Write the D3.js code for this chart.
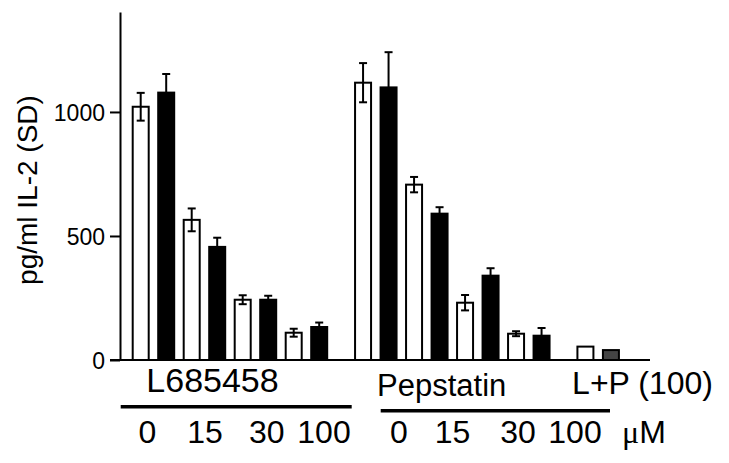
<!DOCTYPE html>
<html>
<head>
<meta charset="utf-8">
<script src="https://cdn.jsdelivr.net/npm/d3@7"></script>
<style>
  body { margin: 0; background: #fff; }
  text { font-family: "Liberation Sans", Arial, sans-serif; fill: #000; }
</style>
</head>
<body>
<svg id="chart" width="729" height="463"></svg>
<script>
// IL-2 values (pg/ml) and SD
const doses = ['0', '15', '30', '100'];
const l685458 = [1021, 1078, 565, 456, 243, 243, 110, 133];
const l685458Sd = [56, 75, 46, 37, 18, 16, 16, 18];
const pepstatin = [1118, 1099, 707, 590, 231, 340, 106, 98];
const pepstatinSd = [79, 142, 31, 26, 31, 30, 10, 31];
const combo = [54, 40];
const yTicks = [0, 500, 1000];

const fills = ['#fff', '#000'];

// flatten into bar list: group index, position in group
const bars = [];
l685458.forEach((v, i) => bars.push({ g: 0, i, v, sd: l685458Sd[i], fill: fills[i % 2] }));
pepstatin.forEach((v, i) => bars.push({ g: 1, i, v, sd: pepstatinSd[i], fill: fills[i % 2] }));
combo.forEach((v, i) => bars.push({ g: 2, i, v, sd: null, fill: i === 0 ? '#fff' : '#444' }));

const svg = d3.select('#chart');
const groupGap = 0.72;
const slot = d => d.g * 8 + d.i + d.g * groupGap;

const x = d3.scaleLinear().domain([0, 1]).range([140.7, 166.2]);
const y = d3.scaleLinear().domain([0, 1403]).range([360, 12]);
const barW = 16;

// bars
svg.append('g').selectAll('rect')
    .data(bars)
    .enter()
    .append('rect')
    .attr('x', d => x(slot(d)) - barW / 2)
    .attr('y', d => y(d.v))
    .attr('width', barW)
    .attr('height', d => y(0) - y(d.v))
    .attr('fill', d => d.fill)
    .attr('stroke', '#000')
    .attr('stroke-width', 2);

// error bars
const err = svg.append('g')
    .attr('stroke', '#000')
    .attr('stroke-width', 2)
    .selectAll('g')
    .data(bars.filter(d => d.sd !== null))
    .enter()
    .append('g');
err.append('line')
    .attr('x1', d => x(slot(d))).attr('x2', d => x(slot(d)))
    .attr('y1', d => y(d.v - d.sd)).attr('y2', d => y(d.v + d.sd));
err.append('line')
    .attr('x1', d => x(slot(d)) - 4).attr('x2', d => x(slot(d)) + 4)
    .attr('y1', d => y(d.v + d.sd)).attr('y2', d => y(d.v + d.sd));
err.append('line')
    .attr('x1', d => x(slot(d)) - 4).attr('x2', d => x(slot(d)) + 4)
    .attr('y1', d => y(d.v - d.sd)).attr('y2', d => y(d.v - d.sd));

// y axis
const yAxis = svg.append('g')
    .attr('transform', 'translate(120,0)')
    .call(d3.axisLeft(y).tickValues(yTicks).tickFormat(d3.format('d'))
        .tickSize(10).tickSizeOuter(0).tickPadding(5))
    .attr('font-size', 23)
    .attr('font-family', '"Liberation Sans", Arial, sans-serif');
yAxis.select('.domain').attr('stroke-width', 2);
yAxis.selectAll('.tick line').attr('stroke-width', 2);
yAxis.selectAll('.tick text').attr('dy', '0.36em');

// baseline
svg.append('line')
    .attr('x1', 110).attr('x2', 650)
    .attr('y1', y(0)).attr('y2', y(0))
    .attr('stroke', '#000').attr('stroke-width', 2);

// y label
svg.append('text')
    .attr('transform', 'translate(36.5,190) rotate(-90)')
    .attr('text-anchor', 'middle')
    .style('font-size', '28px')
    .text('pg/ml IL-2 (SD)');

// group labels
svg.append('text')
    .attr('x', 212.5).attr('y', 392.3)
    .attr('text-anchor', 'middle')
    .style('font-size', '34px')
    .text('L685458');
svg.append('text')
    .attr('x', 441.7).attr('y', 396)
    .attr('text-anchor', 'middle')
    .style('font-size', '31px')
    .text('Pepstatin');
svg.append('text')
    .attr('x', 642.5).attr('y', 394.3)
    .attr('text-anchor', 'middle')
    .style('font-size', '32px')
    .text('L+P (100)');

// underlines
svg.append('line')
    .attr('x1', 120.7).attr('x2', 351.7).attr('y1', 406.7).attr('y2', 406.7)
    .attr('stroke', '#000').attr('stroke-width', 3.5);
svg.append('line')
    .attr('x1', 380.7).attr('x2', 610).attr('y1', 410.7).attr('y2', 410.7)
    .attr('stroke', '#000').attr('stroke-width', 3.5);

// dose labels
const doseX = [[147.5, 205, 266.7, 324], [399, 452.5, 518, 575]];
doseX.forEach(row => {
    svg.append('g').selectAll('text')
        .data(doses)
        .enter()
        .append('text')
        .attr('x', (d, i) => row[i])
        .attr('y', 443)
        .attr('text-anchor', 'middle')
        .style('font-size', '32px')
        .text(d => d);
});
const unit = svg.append('text')
    .attr('x', 644).attr('y', 443)
    .attr('text-anchor', 'middle')
    .style('font-size', '32px');
unit.append('tspan').style('font-family', '"Liberation Serif", serif').text('μ');
unit.append('tspan').text('M');
</script>
</body>
</html>
